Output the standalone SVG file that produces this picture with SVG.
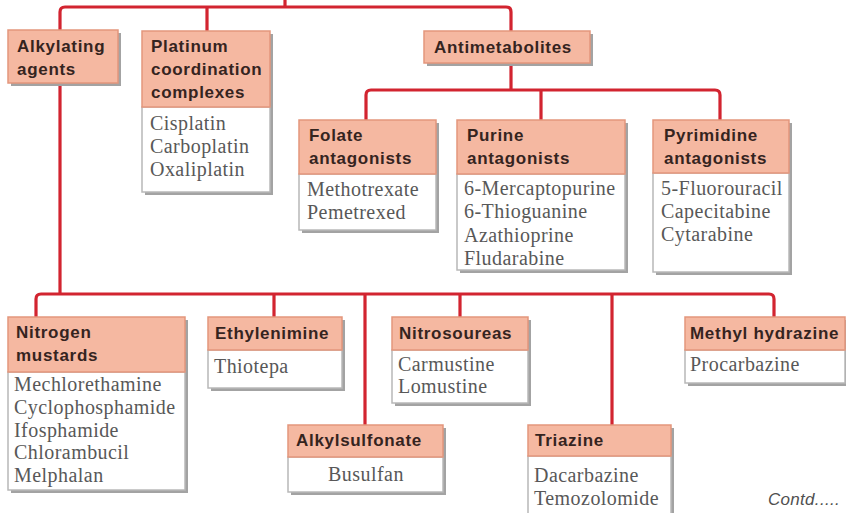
<svg xmlns="http://www.w3.org/2000/svg" width="846" height="513" viewBox="0 0 846 513">
<style>
.sh{fill:#a3a3a3;}
.hd{fill:#f5b8a1;stroke:#e3967c;stroke-width:1.5;}
.bd{fill:#ffffff;stroke:#b8b8b8;stroke-width:1.5;}
.ht{font-family:"Liberation Sans",Arial,sans-serif;font-weight:bold;font-size:17px;letter-spacing:0.7px;fill:#35241f;}
.bt{font-family:"Liberation Serif","Times New Roman",serif;font-size:20px;letter-spacing:0.45px;fill:#585858;}
.ln{fill:none;stroke:#d22430;stroke-width:3.2;stroke-linejoin:round;}
</style>
<rect width="846" height="513" fill="#ffffff"/>
<g id="connectors">
<path class="ln" d="M60,30 V12 Q60,7 65,7 H506 Q511,7 511,12 V31"/>
<path class="ln" d="M285,7 V0"/>
<path class="ln" d="M207,7 V31"/>
<path class="ln" d="M60,83 V294"/>
<path class="ln" d="M511,63 V90"/>
<path class="ln" d="M366,120 V95 Q366,90 371,90 H715 Q720,90 720,95 V120"/>
<path class="ln" d="M541,90 V120"/>
<path class="ln" d="M36,317 V299 Q36,294 41,294 H769 Q774,294 774,299 V317"/>
<path class="ln" d="M274,294 V317"/>
<path class="ln" d="M365,294 V425"/>
<path class="ln" d="M460,294 V317"/>
<path class="ln" d="M612,294 V425"/>
</g>
<g id="alkylating">
<rect class="sh" x="11" y="33" width="110" height="53"/>
<rect class="hd" x="8" y="30" width="110" height="53"/>
<text class="ht" x="17" y="52">Alkylating</text>
<text class="ht" x="17" y="75">agents</text>
</g>
<g id="platinum">
<rect class="sh" x="145" y="34" width="128" height="161"/>
<rect class="bd" x="142" y="107" width="128" height="85"/>
<rect class="hd" x="142" y="31" width="128" height="76"/>
<text class="ht" x="151" y="52">Platinum</text>
<text class="ht" x="151" y="75">coordination</text>
<text class="ht" x="151" y="98">complexes</text>
<text class="bt" x="150" y="130">Cisplatin</text>
<text class="bt" x="150" y="153">Carboplatin</text>
<text class="bt" x="150" y="176">Oxaliplatin</text>
</g>
<g id="antimetabolites">
<rect class="sh" x="427" y="34" width="166" height="32"/>
<rect class="hd" x="424" y="31" width="166" height="32"/>
<text class="ht" x="434" y="53">Antimetabolites</text>
</g>
<g id="folate">
<rect class="sh" x="302" y="123" width="137" height="110"/>
<rect class="bd" x="299" y="174" width="137" height="56"/>
<rect class="hd" x="299" y="120" width="137" height="54"/>
<text class="ht" x="309" y="141">Folate</text>
<text class="ht" x="309" y="164">antagonists</text>
<text class="bt" x="307" y="196">Methotrexate</text>
<text class="bt" x="307" y="219">Pemetrexed</text>
</g>
<g id="purine">
<rect class="sh" x="460" y="123" width="168" height="150"/>
<rect class="bd" x="457" y="174" width="168" height="96"/>
<rect class="hd" x="457" y="120" width="168" height="54"/>
<text class="ht" x="467" y="141">Purine</text>
<text class="ht" x="467" y="164">antagonists</text>
<text class="bt" x="464" y="195">6-Mercaptopurine</text>
<text class="bt" x="464" y="218">6-Thioguanine</text>
<text class="bt" x="464" y="242">Azathioprine</text>
<text class="bt" x="464" y="265">Fludarabine</text>
</g>
<g id="pyrimidine">
<rect class="sh" x="656" y="123" width="136" height="152"/>
<rect class="bd" x="653" y="173" width="136" height="99"/>
<rect class="hd" x="653" y="120" width="136" height="53"/>
<text class="ht" x="664" y="141">Pyrimidine</text>
<text class="ht" x="664" y="164">antagonists</text>
<text class="bt" x="661" y="195">5-Fluorouracil</text>
<text class="bt" x="661" y="218">Capecitabine</text>
<text class="bt" x="661" y="241">Cytarabine</text>
</g>
<g id="nitrogen">
<rect class="sh" x="11" y="320" width="177" height="173"/>
<rect class="bd" x="8" y="372" width="177" height="118"/>
<rect class="hd" x="8" y="317" width="177" height="55"/>
<text class="ht" x="16" y="338">Nitrogen</text>
<text class="ht" x="16" y="361">mustards</text>
<text class="bt" x="14" y="391">Mechlorethamine</text>
<text class="bt" x="14" y="414">Cyclophosphamide</text>
<text class="bt" x="14" y="437">Ifosphamide</text>
<text class="bt" x="14" y="459">Chlorambucil</text>
<text class="bt" x="14" y="482">Melphalan</text>
</g>
<g id="ethylenimine">
<rect class="sh" x="211" y="320" width="134" height="71"/>
<rect class="bd" x="208" y="350" width="134" height="38"/>
<rect class="hd" x="208" y="317" width="134" height="33"/>
<text class="ht" x="215" y="339">Ethylenimine</text>
<text class="bt" x="214" y="373">Thiotepa</text>
</g>
<g id="nitrosoureas">
<rect class="sh" x="395" y="320" width="136" height="86"/>
<rect class="bd" x="392" y="350" width="136" height="53"/>
<rect class="hd" x="392" y="317" width="136" height="33"/>
<text class="ht" x="399" y="339">Nitrosoureas</text>
<text class="bt" x="398" y="371">Carmustine</text>
<text class="bt" x="398" y="393">Lomustine</text>
</g>
<g id="alkylsulfonate">
<rect class="sh" x="291" y="428" width="155" height="67"/>
<rect class="bd" x="288" y="457" width="155" height="35"/>
<rect class="hd" x="288" y="425" width="155" height="32"/>
<text class="ht" x="296" y="446">Alkylsulfonate</text>
<text class="bt" x="366" y="481" text-anchor="middle">Busulfan</text>
</g>
<g id="triazine">
<rect class="sh" x="531" y="428" width="143" height="90"/>
<rect class="bd" x="528" y="456" width="143" height="60"/>
<rect class="hd" x="528" y="425" width="143" height="31"/>
<text class="ht" x="535" y="446">Triazine</text>
<text class="bt" x="534" y="482">Dacarbazine</text>
<text class="bt" x="534" y="505">Temozolomide</text>
</g>
<g id="methylhydrazine">
<rect class="sh" x="688" y="320" width="160" height="66"/>
<rect class="bd" x="685" y="350" width="160" height="33"/>
<rect class="hd" x="685" y="317" width="160" height="33"/>
<text class="ht" x="690" y="339">Methyl hydrazine</text>
<text class="bt" x="690" y="371">Procarbazine</text>
</g>
<text x="768" y="505" font-family="'Liberation Sans',Arial,sans-serif" font-style="italic" font-size="17" letter-spacing="0.3" fill="#505050">Contd.....</text>
</svg>
